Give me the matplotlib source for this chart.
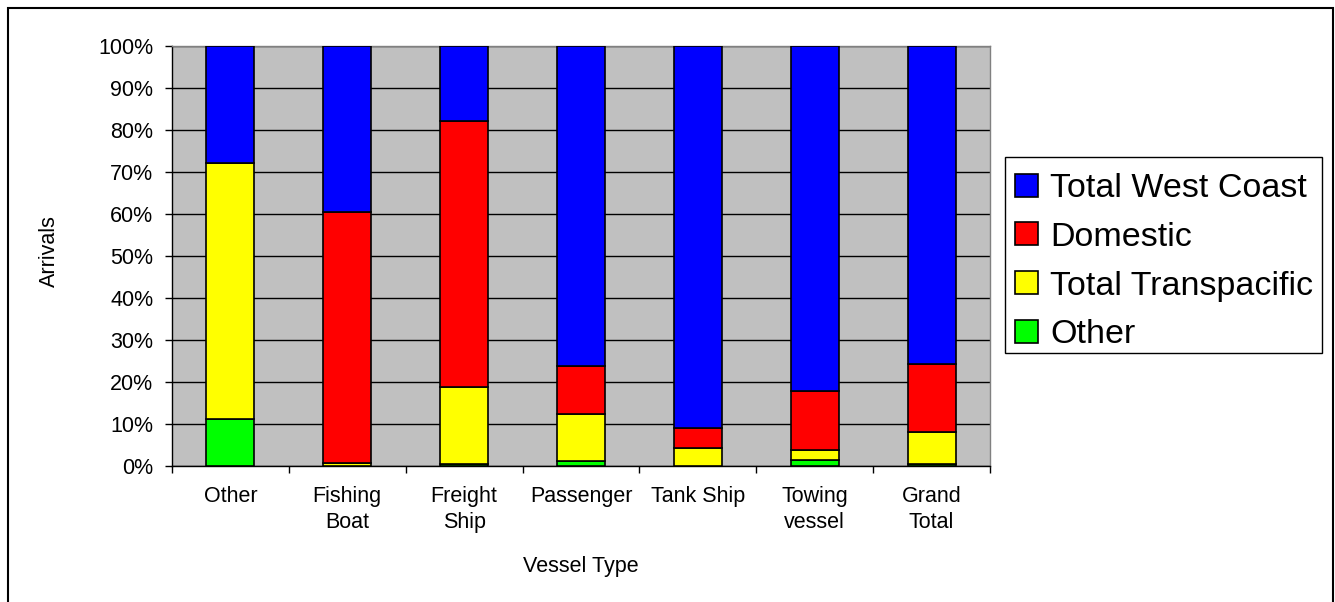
import matplotlib
matplotlib.use("Agg")
import matplotlib.pyplot as plt
import matplotlib.patches as mpatches
import numpy as np

plt.rcParams['font.family'] = ['Liberation Sans', 'DejaVu Sans']

categories = ["Other", "Fishing\nBoat", "Freight\nShip", "Passenger", "Tank Ship", "Towing\nvessel", "Grand\nTotal"]
other = [11.0, 0.0, 0.3, 1.0, 0.0, 1.2, 0.4]
transpacific = [61.0, 0.6, 18.4, 11.3, 4.2, 2.6, 7.5]
domestic = [0.0, 59.9, 63.4, 11.5, 4.7, 13.9, 16.2]
west_coast = [28.0, 39.5, 17.9, 76.2, 91.1, 82.3, 75.9]

series = [("Other", other, "#00FF00"),
          ("Total Transpacific", transpacific, "#FFFF00"),
          ("Domestic", domestic, "#FF0000"),
          ("Total West Coast", west_coast, "#0000FF")]

W, H = 1335, 602
fig = plt.figure(figsize=(W / 100, H / 100), dpi=100)
ax = fig.add_axes([172 / W, 1 - 465.5 / H, (990 - 172) / W, (465.5 - 46) / H])
ax.set_facecolor("#C0C0C0")

x = np.arange(len(categories))
bottom = np.zeros(len(categories))
handles = {}
for name, vals, col in series:
    vals = np.array(vals)
    bars = ax.bar(x, vals, 0.41, bottom=bottom, color=col, edgecolor="black",
                  linewidth=1.2, zorder=3, label=name)
    handles[name] = bars
    bottom = bottom + vals

ax.set_xlim(-0.5, len(categories) - 0.5)
ax.set_ylim(0, 100)
yt = np.arange(0, 101, 10)
ax.set_yticks(yt)
ax.set_yticklabels([f"{v}%" for v in yt], fontsize=15.5)
ax.yaxis.grid(True, color="black", linewidth=1.0, zorder=1)
ax.set_axisbelow(True)

ax.set_xticks(x)
ax.set_xticklabels(categories, fontsize=15.5, linespacing=1.3)
ax.set_xticks(np.arange(-0.5, len(categories), 1.0), minor=True)
ax.tick_params(axis="x", which="major", length=0, pad=15)
ax.tick_params(axis="x", which="minor", length=5, width=1, direction="out", color="black")
ax.tick_params(axis="y", which="major", length=5, width=1, direction="out", pad=8.5, color="black")

for s in ["top", "right"]:
    ax.spines[s].set_color("#808080")
    ax.spines[s].set_linewidth(1.0)
for s in ["left", "bottom"]:
    ax.spines[s].set_color("black")
    ax.spines[s].set_linewidth(1.0)

ax.set_xlabel("Vessel Type", fontsize=15.5)
ax.xaxis.set_label_coords(0.5, -(556 - 465.5) / (465.5 - 46))
ax.xaxis.label.set_va("top")
ax.set_ylabel("Arrivals", fontsize=15.5)
ax.yaxis.set_label_coords((59.5 - 172) / (990 - 172), 0.51)

order = ["Total West Coast", "Domestic", "Total Transpacific", "Other"]
leg = fig.legend([handles[n] for n in order], order, loc="upper left",
                 bbox_to_anchor=(1005 / W, 1 - 163 / H), bbox_transform=fig.transFigure,
                 fontsize=24.5, frameon=False,
                 borderaxespad=0, borderpad=0.3, labelspacing=0.52,
                 handlelength=0.66, handleheight=0.66, handletextpad=0.36)

legend_box = mpatches.Rectangle((1005 / W, 1 - 353 / H), (1322 - 1005) / W, (353 - 157) / H,
                                transform=fig.transFigure, fill=True, facecolor="white",
                                edgecolor="black", linewidth=1.0, zorder=0)
fig.patches.append(legend_box)

border = mpatches.Rectangle((7.5 / W, -0.01), (1333 - 7.5) / W, 1.01 - 7.5 / H,
                            transform=fig.transFigure, fill=False,
                            edgecolor="black", linewidth=1.5)
fig.patches.append(border)

fig.savefig("out.png", dpi=100)
